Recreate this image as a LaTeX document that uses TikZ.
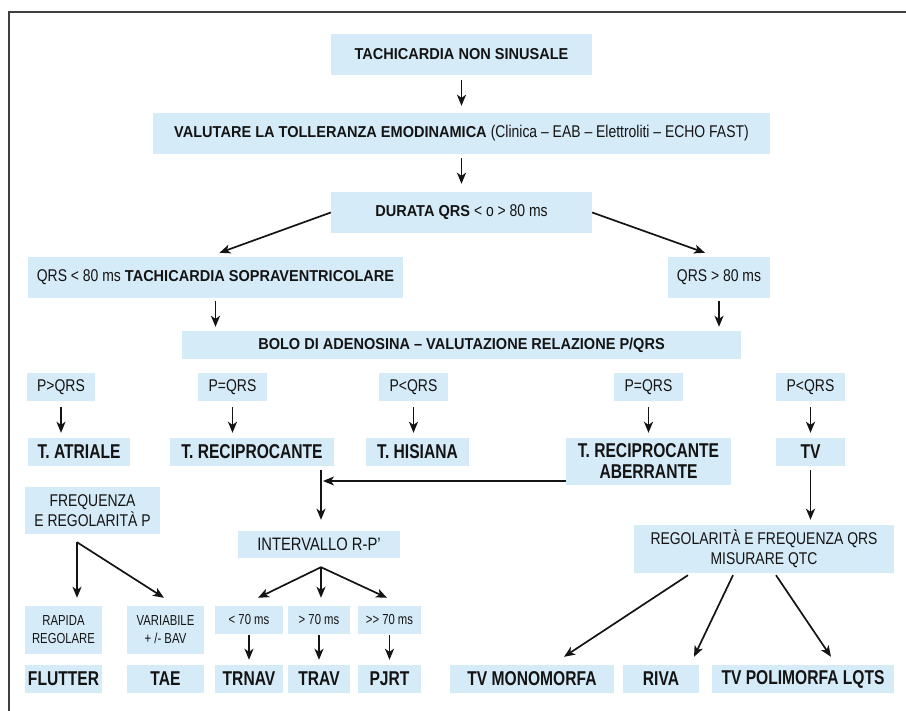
\documentclass[tikz,border=0pt]{standalone}
\usepackage{fontspec}
\setmainfont{Liberation Sans}
\newfontfamily\fB[FakeStretch=0.92]{Liberation Sans}
\newfontfamily\fC[FakeStretch=0.78]{Liberation Sans}
\newfontfamily\fR[FakeStretch=0.82]{Liberation Sans}
\usetikzlibrary{arrows.meta}
\definecolor{boxblue}{RGB}{214,235,248}
\definecolor{ink}{RGB}{20,20,20}
\newcommand{\rg}[1]{{\fR\mdseries\fontsize{17}{20}\selectfont #1}}
\tikzset{
 box/.style={fill=boxblue, inner sep=0pt, align=center, text=ink},
 big/.style={box, font=\fB\bfseries\fontsize{15.8}{18}\selectfont},
 tb/.style={box, font=\fC\bfseries\fontsize{20}{21}\selectfont},
 sm/.style={box, font=\fR\fontsize{17}{20}\selectfont},
 xs/.style={box, font=\fC\fontsize{14.5}{18}\selectfont},
 arr/.style={-{Stealth[length=11pt,width=9pt,inset=3pt]}, line width=1.7pt, draw=ink},
}
\begin{document}
\begin{tikzpicture}[x=1pt,y=-1pt]
\useasboundingbox (0,0) rectangle (906,711);
\draw[line width=1.3pt, draw=black!75] (906,12) -- (9,12) -- (9,711);

\node[big,minimum width=261pt,minimum height=41pt] (tach) at (461.5,54.5) {TACHICARDIA NON SINUSALE};
\node[big,minimum width=617pt,minimum height=41pt] (valut) at (461.5,133.5) {VALUTARE LA TOLLERANZA EMODINAMICA \rg{(Clinica – EAB – Elettroliti – ECHO FAST)}};
\node[big,minimum width=261pt,minimum height=41pt] (durata) at (461.5,212.5) {DURATA QRS \rg{< o > 80 ms}};
\node[big,minimum width=375pt,minimum height=41pt] (sopra) at (215.5,277.5) {\rg{QRS < 80 ms} TACHICARDIA SOPRAVENTRICOLARE};
\node[sm,minimum width=102pt,minimum height=41pt] (qrs) at (719,277.5) {QRS > 80 ms};
\node[big,minimum width=559pt,minimum height=28pt] (bolo) at (461.5,345) {BOLO DI ADENOSINA – VALUTAZIONE RELAZIONE P/QRS};

\node[sm,minimum width=68pt,minimum height=28pt] (p1) at (61,387) {P>QRS};
\node[sm,minimum width=69pt,minimum height=28pt] (p2) at (232.5,387) {P=QRS};
\node[sm,minimum width=69pt,minimum height=28pt] (p3) at (413.5,387) {P<QRS};
\node[sm,minimum width=69pt,minimum height=28pt] (p4) at (648.5,387) {P=QRS};
\node[sm,minimum width=69pt,minimum height=28pt] (p5) at (810.5,387) {P<QRS};

\node[tb,minimum width=102pt,minimum height=28pt] (atriale) at (79,452) {T. ATRIALE};
\node[tb,minimum width=164pt,minimum height=28pt] (recip) at (252,452) {T. RECIPROCANTE};
\node[tb,minimum width=103pt,minimum height=28pt] (hisiana) at (417.5,452) {T. HISIANA};
\node[tb,minimum width=165pt,minimum height=47pt] (aberr) at (648.5,461.5) {T. RECIPROCANTE\\ABERRANTE};
\node[tb,minimum width=69pt,minimum height=28pt] (tv) at (810.5,452) {TV};

\node[sm,minimum width=135pt,minimum height=47pt] (freq) at (92.5,510.5) {FREQUENZA\\E REGOLARITÀ P};
\node[sm,font=\fR\fontsize{18}{20}\selectfont,minimum width=162pt,minimum height=27pt] (interv) at (319,544.5) {INTERVALLO R-P’};
\node[sm,minimum width=260pt,minimum height=48pt] (regol) at (764,549) {REGOLARITÀ E FREQUENZA QRS\\MISURARE QTC};

\node[xs,minimum width=77pt,minimum height=48pt] (rapida) at (63.5,630) {RAPIDA\\REGOLARE};
\node[xs,minimum width=77pt,minimum height=48pt] (variab) at (165.5,630) {VARIABILE\\+ /- BAV};
\node[xs,minimum width=68pt,minimum height=28pt] (lt70) at (249,620) {< 70 ms};
\node[xs,minimum width=62pt,minimum height=28pt] (gt70) at (319,620) {> 70 ms};
\node[xs,minimum width=63pt,minimum height=28pt] (ggt70) at (389.5,620) {>{}> 70 ms};

\node[tb,minimum width=77pt,minimum height=28pt] (flutter) at (63.5,679) {FLUTTER};
\node[tb,minimum width=77pt,minimum height=28pt] (tae) at (165.5,679) {TAE};
\node[tb,minimum width=68pt,minimum height=28pt] (trnav) at (249,679) {TRNAV};
\node[tb,minimum width=62pt,minimum height=28pt] (trav) at (319,679) {TRAV};
\node[tb,minimum width=63pt,minimum height=28pt] (pjrt) at (389.5,679) {PJRT};
\node[tb,minimum width=164pt,minimum height=28pt] (tvmono) at (532,679) {TV MONOMORFA};
\node[tb,minimum width=76pt,minimum height=28pt] (riva) at (661,679) {RIVA};
\node[tb,minimum width=182pt,minimum height=28pt] (tvpoli) at (803,679) {TV POLIMORFA LQTS};

% connectors
\draw[arr,shorten <=5pt,shorten >=7pt] (tach) -- (valut);
\draw[arr,shorten <=4pt,shorten >=8pt] (valut) -- (durata);
\draw[arr] (durata.west) -- ([xshift=4pt,yshift=4pt]sopra.north);
\draw[arr] (durata.east) -- ([xshift=-14pt,yshift=4pt]qrs.north);
\draw[arr,shorten <=3pt,shorten >=4pt] (sopra.south) -- (sopra.south |- bolo.north);
\draw[arr,shorten <=3pt,shorten >=4pt] (qrs.south) -- (qrs.south |- bolo.north);

\draw[arr,shorten <=6pt,shorten >=5pt] (p1.south) -- (p1.south |- atriale.north);
\draw[arr,shorten <=6pt,shorten >=5pt] (p2.south) -- (p2.south |- recip.north);
\draw[arr,shorten <=6pt,shorten >=5pt] (p3.south) -- (p3.south |- hisiana.north);
\draw[arr,shorten <=6pt,shorten >=5pt] (p4.south) -- (p4.south |- aberr.north);
\draw[arr,shorten <=6pt,shorten >=5pt] (p5.south) -- (p5.south |- tv.north);

\coordinate (ij) at ([xshift=2pt]interv.north);
\draw[arr,shorten <=4pt,shorten >=11pt] (ij |- recip.south) -- (ij);
\coordinate (ab) at ([yshift=-19.5pt]aberr.west);
\draw[arr,shorten >=2pt] (ab) -- (ab -| ij);
\draw[arr,shorten <=4pt,shorten >=5pt] (tv.south) -- (tv.south |- regol.north);

\coordinate (fq) at ([xshift=-15.5pt,yshift=-8pt]freq.south);
\coordinate (fqa) at (fq |- rapida.north);
\draw[arr,shorten >=8pt] (fq) -- (fqa);
\draw[arr] (fq) -- ([xshift=-1.5pt,yshift=8pt]variab.north);

\coordinate (iv) at ([xshift=2pt,yshift=-9pt]interv.south);
\draw[arr] (iv) -- ([xshift=9pt,yshift=8pt]lt70.north);
\draw[arr] (iv) -- ([xshift=2pt,yshift=8pt]gt70.north);
\draw[arr] (iv) -- ([xshift=-2.5pt,yshift=8pt]ggt70.north);

\draw[arr,shorten <=1pt,shorten >=5pt] (lt70) -- (trnav);
\draw[arr,shorten <=1pt,shorten >=5pt] (gt70) -- (trav);
\draw[arr,shorten <=1pt,shorten >=5pt] (ggt70) -- (pjrt);

\draw[arr] ([xshift=-76pt,yshift=-2pt]regol.south) -- ([xshift=32pt,yshift=8pt]tvmono.north);
\draw[arr] ([xshift=-31pt,yshift=-2pt]regol.south) -- ([xshift=33pt,yshift=8pt]riva.north);
\draw[arr] ([xshift=12pt,yshift=-2pt]regol.south) -- ([xshift=28pt,yshift=8pt]tvpoli.north);
\end{tikzpicture}
\end{document}
